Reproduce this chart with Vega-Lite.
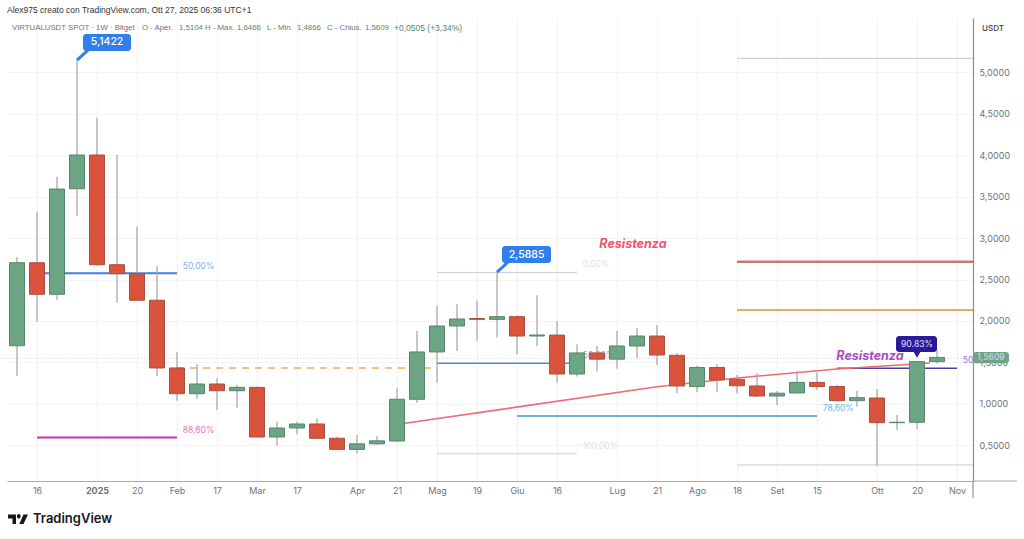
{
  "$schema": "https://vega.github.io/schema/vega-lite/v6.json",
  "autosize": "none",
  "width": 966,
  "height": 463,
  "padding": {"left": 7, "top": 18, "right": 51, "bottom": 58},
  "background": "#ffffff",
  "title": {
    "text": "Alex975 creato con TradingView.com, Ott 27, 2025 06:36 UTC+1",
    "anchor": "start",
    "frame": "group",
    "offset": 4,
    "font": "Liberation Sans",
    "fontSize": 8.5,
    "fontWeight": 400,
    "color": "#333333"
  },
  "datasets": {
    "candles": [
      {"date": "2024-12-09", "open": 1.702, "high": 2.771, "low": 1.337, "close": 2.702, "name": "up"},
      {"date": "2024-12-16", "open": 2.702, "high": 3.317, "low": 1.992, "close": 2.322, "name": "down"},
      {"date": "2024-12-23", "open": 2.322, "high": 3.739, "low": 2.253, "close": 3.59, "name": "up"},
      {"date": "2024-12-30", "open": 3.594, "high": 5.1422, "low": 3.269, "close": 4.0, "name": "up"},
      {"date": "2025-01-06", "open": 4.0, "high": 4.449, "low": 2.663, "close": 2.678, "name": "down"},
      {"date": "2025-01-13", "open": 2.678, "high": 4.0, "low": 2.22, "close": 2.57, "name": "down"},
      {"date": "2025-01-20", "open": 2.57, "high": 3.136, "low": 2.25, "close": 2.25, "name": "down"},
      {"date": "2025-01-27", "open": 2.25, "high": 2.663, "low": 1.337, "close": 1.434, "name": "down"},
      {"date": "2025-02-03", "open": 1.434, "high": 1.627, "low": 1.04, "close": 1.124, "name": "down"},
      {"date": "2025-02-10", "open": 1.124, "high": 1.48, "low": 1.064, "close": 1.241, "name": "up"},
      {"date": "2025-02-17", "open": 1.241, "high": 1.31, "low": 0.928, "close": 1.16, "name": "down"},
      {"date": "2025-02-24", "open": 1.16, "high": 1.229, "low": 0.955, "close": 1.2, "name": "up"},
      {"date": "2025-03-03", "open": 1.2, "high": 1.21, "low": 0.6, "close": 0.602, "name": "down"},
      {"date": "2025-03-10", "open": 0.602, "high": 0.787, "low": 0.498, "close": 0.711, "name": "up"},
      {"date": "2025-03-17", "open": 0.711, "high": 0.787, "low": 0.635, "close": 0.759, "name": "up"},
      {"date": "2025-03-24", "open": 0.759, "high": 0.829, "low": 0.575, "close": 0.587, "name": "down"},
      {"date": "2025-03-31", "open": 0.587, "high": 0.606, "low": 0.45, "close": 0.453, "name": "down"},
      {"date": "2025-04-07", "open": 0.453, "high": 0.627, "low": 0.405, "close": 0.52, "name": "up"},
      {"date": "2025-04-14", "open": 0.52, "high": 0.615, "low": 0.51, "close": 0.556, "name": "up"},
      {"date": "2025-04-21", "open": 0.554, "high": 1.19, "low": 0.535, "close": 1.057, "name": "up"},
      {"date": "2025-04-28", "open": 1.057, "high": 1.88, "low": 1.016, "close": 1.627, "name": "up"},
      {"date": "2025-05-05", "open": 1.627, "high": 2.18, "low": 1.257, "close": 1.94, "name": "up"},
      {"date": "2025-05-12", "open": 1.94, "high": 2.205, "low": 1.639, "close": 2.024, "name": "up"},
      {"date": "2025-05-19", "open": 2.03, "high": 2.245, "low": 1.763, "close": 2.02, "name": "down"},
      {"date": "2025-05-26", "open": 2.02, "high": 2.5885, "low": 1.8, "close": 2.052, "name": "up"},
      {"date": "2025-06-02", "open": 2.052, "high": 2.07, "low": 1.6, "close": 1.819, "name": "down"},
      {"date": "2025-06-09", "open": 1.819, "high": 2.31, "low": 1.699, "close": 1.831, "name": "up"},
      {"date": "2025-06-16", "open": 1.83, "high": 2.0, "low": 1.257, "close": 1.361, "name": "down"},
      {"date": "2025-06-23", "open": 1.361, "high": 1.72, "low": 1.33, "close": 1.615, "name": "up"},
      {"date": "2025-06-30", "open": 1.615, "high": 1.703, "low": 1.39, "close": 1.54, "name": "down"},
      {"date": "2025-07-07", "open": 1.54, "high": 1.88, "low": 1.425, "close": 1.699, "name": "up"},
      {"date": "2025-07-14", "open": 1.699, "high": 1.916, "low": 1.55, "close": 1.819, "name": "up"},
      {"date": "2025-07-21", "open": 1.819, "high": 1.952, "low": 1.47, "close": 1.59, "name": "down"},
      {"date": "2025-07-28", "open": 1.587, "high": 1.614, "low": 1.13, "close": 1.217, "name": "down"},
      {"date": "2025-08-04", "open": 1.21, "high": 1.46, "low": 1.14, "close": 1.44, "name": "up"},
      {"date": "2025-08-11", "open": 1.44, "high": 1.48, "low": 1.145, "close": 1.29, "name": "down"},
      {"date": "2025-08-18", "open": 1.297, "high": 1.35, "low": 1.13, "close": 1.22, "name": "down"},
      {"date": "2025-08-25", "open": 1.217, "high": 1.37, "low": 1.08, "close": 1.096, "name": "down"},
      {"date": "2025-09-01", "open": 1.096, "high": 1.157, "low": 0.988, "close": 1.13, "name": "up"},
      {"date": "2025-09-08", "open": 1.133, "high": 1.398, "low": 1.125, "close": 1.26, "name": "up"},
      {"date": "2025-09-15", "open": 1.26, "high": 1.38, "low": 1.169, "close": 1.21, "name": "down"},
      {"date": "2025-09-22", "open": 1.21, "high": 1.23, "low": 1.03, "close": 1.04, "name": "down"},
      {"date": "2025-09-29", "open": 1.04, "high": 1.16, "low": 0.967, "close": 1.076, "name": "up"},
      {"date": "2025-10-06", "open": 1.072, "high": 1.18, "low": 0.26, "close": 0.775, "name": "down"},
      {"date": "2025-10-13", "open": 0.775, "high": 0.867, "low": 0.687, "close": 0.78, "name": "up"},
      {"date": "2025-10-20", "open": 0.78, "high": 1.51, "low": 0.7, "close": 1.5104, "name": "up"},
      {"date": "2025-10-27", "open": 1.5104, "high": 1.6466, "low": 1.4866, "close": 1.5609, "name": "up"}
    ],
    "levels": [
      {"date": "2024-11-30T00:00:00Z", "date_end": "2025-11-08T14:24:00Z", "price": 1.55, "name": "last"},
      {"date": "2024-12-16", "date_end": "2025-02-03", "price": 2.575, "name": "fib 50 early"},
      {"date": "2024-12-16", "date_end": "2025-02-03", "price": 0.595, "name": "fib 88.6"},
      {"date": "2025-02-03", "date_end": "2025-05-05", "price": 1.434, "name": "dashed"},
      {"date": "2025-05-05", "date_end": "2025-06-23", "price": 2.585, "name": "fib 0"},
      {"date": "2025-05-05", "date_end": "2025-06-23", "price": 0.404, "name": "fib 100"},
      {"date": "2025-05-05", "date_end": "2025-06-23", "price": 1.49, "name": "fib 50 mid"},
      {"date": "2025-06-02", "date_end": "2025-09-15", "price": 0.855, "name": "fib 78.6"},
      {"date": "2025-08-18", "date_end": "2025-11-08T14:24:00Z", "price": 5.165, "name": "range top"},
      {"date": "2025-08-18", "date_end": "2025-11-08T14:24:00Z", "price": 2.715, "name": "resistance high"},
      {"date": "2025-08-18", "date_end": "2025-11-08T14:24:00Z", "price": 2.133, "name": "resistance low"},
      {"date": "2025-08-18", "date_end": "2025-11-08T14:24:00Z", "price": 0.265, "name": "range bottom"},
      {"date": "2025-09-22", "date_end": "2025-11-03", "price": 1.43, "name": "pivot"}
    ],
    "trend": [
      {"date": "2025-04-23T19:12:00Z", "price": 0.767, "name": "trend"},
      {"date": "2025-07-21", "price": 1.208, "name": "trend"},
      {"date": "2025-08-18", "price": 1.313, "name": "trend"},
      {"date": "2025-09-22", "price": 1.422, "name": "trend"},
      {"date": "2025-10-24T13:12:00Z", "price": 1.494, "name": "trend"}
    ],
    "labels": [
      {"date": "2025-02-05", "price": 2.663, "text": "50,00%", "name": "label blue"},
      {"date": "2025-02-05", "price": 0.687, "text": "88,60%", "name": "label pink"},
      {"date": "2025-06-25", "price": 2.687, "text": "0,00%", "name": "label pale"},
      {"date": "2025-06-25", "price": 0.494, "text": "100,00%", "name": "label pale"},
      {"date": "2025-06-25", "price": 1.59, "text": "50,00%", "name": "label blue"},
      {"date": "2025-09-17", "price": 0.952, "text": "78,60%", "name": "label teal"},
      {"date": "2025-11-05", "price": 1.53, "text": "50", "name": "label violet"}
    ],
    "header": [
      {"date": 1733551200000, "price": 5.53, "text": "VIRTUALUSDT SPOT · 1W · Bitget", "name": "header grey"},
      {"date": 1737482400000, "price": 5.53, "text": "O - Aper.", "name": "header grey"},
      {"date": 1738601280000, "price": 5.53, "text": "1,5104", "name": "header green"},
      {"date": 1739387520000, "price": 5.53, "text": "H - Max.", "name": "header grey"},
      {"date": 1740355200000, "price": 5.53, "text": "1,6466", "name": "header green"},
      {"date": 1741262400000, "price": 5.53, "text": "L - Min.", "name": "header grey"},
      {"date": 1742169600000, "price": 5.53, "text": "1,4866", "name": "header green"},
      {"date": 1743076800000, "price": 5.53, "text": "C - Chius.", "name": "header grey"},
      {"date": 1744225920000, "price": 5.53, "text": "1,5609", "name": "header green"},
      {"date": 1745102880000, "price": 5.53, "text": "+0,0505 (+3,34%)", "name": "header delta"}
    ],
    "tags": [
      {"date": "2025-01-01T02:24:00Z", "date_end": "2025-01-17T21:36:00Z", "price": 5.458, "price_end": 5.253, "name": "tag blue"},
      {"date": "2025-05-27T18:00:00Z", "date_end": "2025-06-13T21:36:00Z", "price": 2.904, "price_end": 2.699, "name": "tag blue"},
      {"date": "2025-10-12T15:36:00Z", "date_end": "2025-10-27", "price": 1.819, "price_end": 1.627, "name": "tag indigo"},
      {"date": "2025-11-08T14:24:00Z", "date_end": "2025-11-21T04:48:00Z", "price": 1.625, "price_end": 1.49, "name": "up"}
    ],
    "pointers": [
      {"date": "2024-12-30", "date_end": "2025-01-02T20:24:00Z", "price": 5.1422, "price_end": 5.265, "name": "tag blue"},
      {"date": "2025-05-26", "date_end": "2025-05-29T20:24:00Z", "price": 2.5885, "price_end": 2.71, "name": "tag blue"}
    ],
    "tipDown": [
      {"date": "2025-10-20", "price": 1.6, "name": "tag indigo"}
    ],
    "tagText": [
      {"date": "2025-01-09T12:00:00Z", "price": 5.356, "text": "5,1422", "name": "tag text"},
      {"date": "2025-06-05T07:48:00Z", "price": 2.8, "text": "2,5885", "name": "tag text"},
      {"date": "2025-10-20", "price": 1.723, "text": "90.83%", "name": "tag text pale"},
      {"date": "2025-11-14T21:36:00Z", "price": 1.5609, "text": "1,5609", "name": "tag text pale"}
    ],
    "resistenza": [
      {"date": "2025-07-12T14:00:00Z", "price": 2.928, "text": "Resistenza", "name": "resistenza red"},
      {"date": "2025-10-03T13:00:00Z", "price": 1.578, "text": "Resistenza", "name": "resistenza violet"}
    ],
    "frame": [
      {"date": "2025-11-08T14:24:00Z", "date_end": "2025-11-24", "price": 0.072, "price_end": 0.072, "name": "frame x"},
      {"date": "2025-11-08T14:24:00Z", "date_end": "2025-11-08T14:24:00Z", "price": 0.072, "price_end": -0.133, "name": "frame y"}
    ],
    "brand": [
      {"date": 1734186240000, "price": -0.386, "text": "TradingView", "name": "brand"}
    ],
    "brandLogo": [
      {"date": 1733732640000, "price": -0.386, "name": "brand"}
    ]
  },
  "encoding": {
    "x": {
      "field": "date",
      "type": "temporal",
      "title": null,
      "scale": {"type": "utc", "domain": [1733400000000, 1762611840000], "padding": 0},
      "axis": {
        "values": [1734307200000, 1736121600000, 1737331200000, 1738540800000, 1739750400000, 1740960000000, 1742169600000, 1743984000000, 1745193600000, 1746403200000, 1747612800000, 1748822400000, 1750032000000, 1751846400000, 1753056000000, 1754265600000, 1755475200000, 1756684800000, 1757894400000, 1759708800000, 1760918400000, 1762128000000],
        "labelExpr": "{'12-16':'16','01-06':'2025','01-20':'20','02-03':'Feb','02-17':'17','03-03':'Mar','03-17':'17','04-07':'Apr','04-21':'21','05-05':'Mag','05-19':'19','06-02':'Giu','06-16':'16','07-07':'Lug','07-21':'21','08-04':'Ago','08-18':'18','09-01':'Set','09-15':'15','10-06':'Ott','10-20':'20','11-03':'Nov'}[utcFormat(datum.value,'%m-%d')]",
        "labelFontWeight": {"condition": {"test": "utcFormat(datum.value,'%m-%d') == '01-06'", "value": 700}, "value": 400},
        "labelFont": "Inter",
        "labelFontSize": 9,
        "labelColor": "#6f7278",
        "labelPadding": 5,
        "labelFlush": false,
        "labelOverlap": false,
        "ticks": false,
        "domainColor": "#aaaaaa",
        "domainWidth": 1,
        "grid": true,
        "gridColor": "#f1f2f4",
        "gridWidth": 1
      }
    },
    "y": {
      "field": "price",
      "type": "quantitative",
      "title": null,
      "scale": {"domain": [0.072, 5.651], "nice": false, "zero": false},
      "axis": {
        "orient": "right",
        "values": [0.5, 1, 1.5, 2, 2.5, 3, 3.5, 4, 4.5, 5],
        "labelExpr": "replace(format(datum.value,'.4f'),'.',',')",
        "labelFont": "Inter",
        "labelFontSize": 9,
        "labelColor": "#6f7278",
        "labelPadding": 6,
        "ticks": false,
        "domainColor": "#8c8c8c",
        "domainWidth": 1.2,
        "grid": true,
        "gridColor": "#f3f4f6",
        "gridWidth": 1,
        "title": "USDT",
        "titleFont": "Inter",
        "titleFontSize": 8,
        "titleFontWeight": 500,
        "titleColor": "#444444",
        "titleAngle": 0,
        "titleX": 19.5,
        "titleY": 14
      }
    },
    "color": {
      "field": "name",
      "type": "nominal",
      "legend": null,
      "scale": {
        "domain": ["up", "down", "last", "fib 50 early", "fib 88.6", "dashed", "fib 0", "fib 100", "fib 50 mid", "fib 78.6", "range top", "resistance high", "resistance low", "range bottom", "pivot", "trend", "label blue", "label pink", "label pale", "label teal", "label violet", "header grey", "header green", "header delta", "tag blue", "tag indigo", "tag text", "tag text pale", "resistenza red", "resistenza violet", "frame x", "frame y", "brand"],
        "range": ["#6ba583", "#d9533d", "#d2d2d2", "#3f7fdc", "#d12fa4", "#f0ab63", "#cfcfcf", "#d8dedc", "#4a89dc", "#3e9cc2", "#c8c8c8", "#c9757c", "#e9a964", "#cccccc", "#4a3fa8", "#ee6a74", "#86aeea", "#e874bc", "#e2e2e2", "#6bbad6", "#8a7cd0", "#6f7278", "#4f8a6b", "#4f8a6b", "#2f80ed", "#2a1a9a", "#ffffff", "#d5d0f5", "#f0566a", "#a94cc4", "#aaaaaa", "#8c8c8c", "#131722"]
      }
    }
  },
  "layer": [
    {
      "data": {"name": "levels"},
      "mark": {"type": "rule"},
      "encoding": {
        "x2": {"field": "date_end"},
        "strokeWidth": {
          "field": "name",
          "type": "nominal",
          "legend": null,
          "scale": {
            "type": "ordinal",
            "domain": ["last", "fib 50 early", "fib 88.6", "dashed", "fib 0", "fib 100", "fib 50 mid", "fib 78.6", "range top", "resistance high", "resistance low", "range bottom", "pivot"],
            "range": [1, 2, 2, 1.6, 1, 1.5, 1.5, 1.5, 1, 2.5, 2, 1, 1.5]
          }
        },
        "strokeDash": {
          "field": "name",
          "type": "nominal",
          "legend": null,
          "scale": {
            "domain": ["last", "fib 50 early", "fib 88.6", "dashed", "fib 0", "fib 100", "fib 50 mid", "fib 78.6", "range top", "resistance high", "resistance low", "range bottom", "pivot"],
            "range": [[1, 2], [1, 0], [1, 0], [7, 6], [1, 0], [1, 0], [1, 0], [1, 0], [1, 0], [1, 0], [1, 0], [1, 0], [1, 0]]
          }
        }
      }
    },
    {
      "data": {"name": "labels"},
      "mark": {"type": "text", "align": "left", "baseline": "middle", "font": "Inter", "fontSize": 8.5},
      "encoding": {"text": {"field": "text"}}
    },
    {
      "data": {"name": "trend"},
      "mark": {"type": "line", "strokeWidth": 1.6, "interpolate": "linear"}
    },
    {
      "data": {"name": "candles"},
      "mark": {"type": "rule", "strokeWidth": 1.3},
      "encoding": {
        "y": {"field": "low", "type": "quantitative", "title": null},
        "y2": {"field": "high"},
        "color": {"value": "#a9a9a9"}
      }
    },
    {
      "data": {"name": "candles"},
      "mark": {"type": "bar", "size": 15, "strokeWidth": 1},
      "encoding": {
        "y": {"field": "open", "type": "quantitative", "title": null},
        "y2": {"field": "close"},
        "stroke": {
          "field": "name",
          "type": "nominal",
          "legend": null,
          "scale": {"domain": ["up", "down"], "range": ["#55866c", "#a8503f"]}
        }
      }
    },
    {
      "data": {"name": "pointers"},
      "mark": {"type": "rule", "strokeWidth": 3},
      "encoding": {"x2": {"field": "date_end"}, "y2": {"field": "price_end"}}
    },
    {
      "data": {"name": "tags"},
      "mark": {"type": "rect", "cornerRadius": 3, "clip": false},
      "encoding": {"x2": {"field": "date_end"}, "y2": {"field": "price_end"}}
    },
    {
      "data": {"name": "tipDown"},
      "mark": {"type": "point", "shape": "triangle-down", "filled": true, "size": 70, "opacity": 1}
    },
    {
      "data": {"name": "tagText"},
      "mark": {"type": "text", "align": "center", "baseline": "middle", "font": "Inter", "fontWeight": 500},
      "encoding": {
        "text": {"field": "text"},
        "size": {
          "field": "name",
          "type": "nominal",
          "legend": null,
          "scale": {"type": "ordinal", "domain": ["tag text", "tag text pale", "header grey", "header green", "header delta"], "range": [10.5, 8.5, 7.8, 7.8, 8.5]}
        }
      }
    },
    {
      "data": {"name": "header"},
      "mark": {"type": "text", "align": "left", "baseline": "middle", "font": "Liberation Sans"},
      "encoding": {
        "text": {"field": "text"},
        "size": {
          "field": "name",
          "type": "nominal",
          "legend": null,
          "scale": {"type": "ordinal", "domain": ["tag text", "tag text pale", "header grey", "header green", "header delta"], "range": [10.5, 8.5, 7.8, 7.8, 8.5]}
        }
      }
    },
    {
      "data": {"name": "resistenza"},
      "mark": {"type": "text", "align": "center", "baseline": "middle", "font": "Inter", "fontSize": 12.5, "fontWeight": 700, "fontStyle": "italic"},
      "encoding": {"text": {"field": "text"}}
    },
    {
      "data": {"name": "frame"},
      "mark": {"type": "rule", "strokeWidth": 1.1, "clip": false},
      "encoding": {"x2": {"field": "date_end"}, "y2": {"field": "price_end"}}
    },
    {
      "data": {"name": "brand"},
      "mark": {"type": "text", "align": "left", "baseline": "middle", "font": "Inter", "fontSize": 13, "fontWeight": 600},
      "encoding": {"text": {"field": "text"}}
    },
    {
      "data": {"name": "brandLogo"},
      "mark": {
        "type": "point",
        "filled": true,
        "size": 400,
        "opacity": 1,
        "shape": "M-1,-0.45 H-0.2 V0.5 H-0.55 V-0.05 H-1 Z M-0.1,-0.27 A0.18,0.18 0 1 1 0.25,-0.27 A0.18,0.18 0 1 1 -0.1,-0.27 Z M0.55,-0.45 H1 L0.55,0.5 H0.13 Z"
      }
    }
  ],
  "config": {"view": {"stroke": null}}
}
